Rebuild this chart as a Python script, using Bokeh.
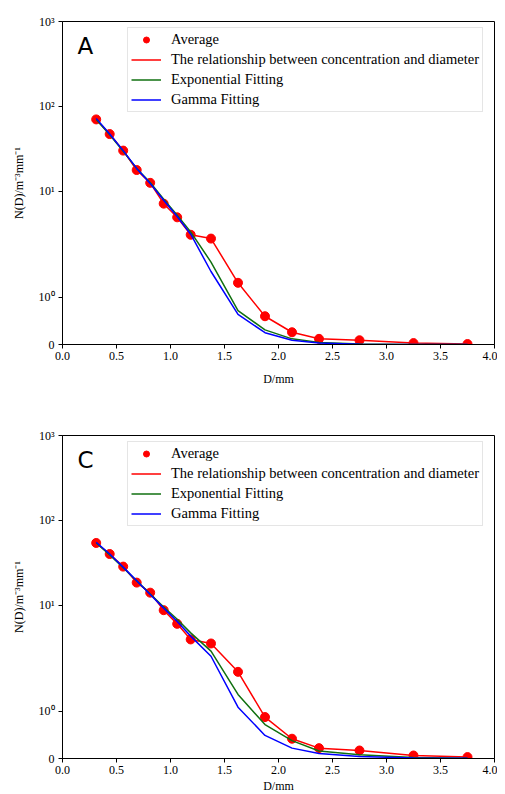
import numpy as np
from bokeh.plotting import figure
from bokeh.layouts import column
from bokeh.models import FixedTicker, NumeralTickFormatter, Label, Legend
from bokeh.embed import file_html
from bokeh.resources import INLINE

# ---------------- data ----------------
diameter = [0.312, 0.437, 0.562, 0.687, 0.812, 0.937, 1.062, 1.187,
            1.375, 1.625, 1.875, 2.125, 2.375, 2.75, 3.25, 3.75]

a_average = [70, 47, 30, 17.7, 12.5, 7.1, 4.9, 3.05,
             2.75, 1.31, 0.60, 0.26, 0.12, 0.09, 0.03, 0.01]
a_exponential = [70, 46, 29.5, 18.5, 12.6, 8.0, 5.2, 3.3,
                 1.75, 0.72, 0.31, 0.12, 0.045, 0.012, 0.002, 0.0004]
a_gamma = [72, 47, 30, 18.5, 12.3, 7.8, 5.0, 3.1,
           1.55, 0.64, 0.25, 0.09, 0.03, 0.006, 0.001, 0.0002]

c_average = [54, 40, 28.4, 18.4, 14.0, 8.7, 6.0, 3.93,
             3.52, 1.84, 0.88, 0.42, 0.22, 0.17, 0.064, 0.03]
c_exponential = [54, 39, 27.5, 19.3, 13.5, 9.5, 6.8, 4.7,
                 2.86, 1.36, 0.72, 0.38, 0.16, 0.08, 0.02, 0.005]
c_gamma = [55, 40, 28, 19.3, 13.3, 9.2, 6.4, 4.3,
           2.49, 1.09, 0.49, 0.22, 0.107, 0.04, 0.01, 0.003]

x_ticks = [0.0, 0.5, 1.0, 1.5, 2.0, 2.5, 3.0, 3.5, 4.0]
y_tick_values = [0, 1, 10, 100, 1000]
y_tick_labels = ["0", "10\u2070", "10\u00b9", "10\u00b2", "10\u00b3"]

legend_labels = ["Average",
                 "The relationship between concentration and diameter",
                 "Exponential Fitting",
                 "Gamma Fitting"]

# symmetric-log transform (linthresh=2, linscale=1, base 10)
LINTHRESH = 2.0
ADJ = 1.0 / (1.0 - 1.0 / 10.0)


def symlog(v):
    v = np.asarray(v, dtype=float)
    with np.errstate(divide="ignore"):
        out = np.where(v <= LINTHRESH, v / LINTHRESH * ADJ,
                       ADJ + np.log10(np.maximum(v, 1e-12) / LINTHRESH))
    return out


SERIF = "Liberation Serif"


def make_panel(letter, avg, expo, gam, top_border, bottom_border, xlabel_standoff):
    ytop = float(symlog([1000])[0])
    p = figure(output_backend="svg", toolbar_location=None,
               frame_width=432, frame_height=323,
               min_border_left=62, min_border_right=3,
               min_border_top=top_border, min_border_bottom=bottom_border,
               x_range=(0, 4), y_range=(0, ytop),
               background_fill_color="white", border_fill_color="white")
    p.grid.visible = False
    p.outline_line_color = "black"
    p.outline_line_width = 1

    ty = symlog(y_tick_values)
    p.yaxis.ticker = FixedTicker(ticks=list(ty))
    p.yaxis.major_label_overrides = {float(t): lab for t, lab in zip(ty, y_tick_labels)}
    p.xaxis.ticker = FixedTicker(ticks=x_ticks)
    p.xaxis.formatter = NumeralTickFormatter(format="0.0")

    for axes in (p.xaxis, p.yaxis):
        axes.axis_line_color = "black"
        axes.major_tick_line_color = "black"
        axes.major_tick_in = 0
        axes.major_tick_out = 4
        axes.minor_tick_line_color = None
        axes.major_label_text_font = SERIF
        axes.major_label_text_font_size = "12px"
        axes.major_label_text_color = "black"
        axes.axis_label_text_font = SERIF
        axes.axis_label_text_font_size = "12px"
        axes.axis_label_text_font_style = "normal"
        axes.axis_label_text_color = "black"
    p.xaxis.axis_label = "D/mm"
    p.xaxis.major_label_standoff = 3
    p.xaxis.axis_label_standoff = xlabel_standoff
    p.yaxis.axis_label = "N(D)/m\u207b\u00b3mm\u207b\u00b9"
    p.yaxis.major_label_standoff = 4
    p.yaxis.axis_label_standoff = 10

    ys_avg = symlog(avg)
    r0 = p.scatter(diameter, ys_avg, size=9, color="#ff0000", marker="circle")
    r1 = p.line(diameter, ys_avg, line_color="#ff0000", line_width=1.5)
    r2 = p.line(diameter, symlog(expo), line_color="#107010", line_width=1.5)
    r3 = p.line(diameter, symlog(gam), line_color="#0000ff", line_width=1.5)

    legend = Legend(items=[(legend_labels[0], [r0]), (legend_labels[1], [r1]),
                           (legend_labels[2], [r2]), (legend_labels[3], [r3])],
                    location=(65, 232))
    legend.label_text_font = SERIF
    legend.label_text_font_size = "14.5px"
    legend.label_text_color = "black"
    legend.glyph_width = 30
    legend.glyph_height = 15
    legend.label_height = 15
    legend.label_standoff = 10
    legend.spacing = 3
    legend.padding = 3
    legend.margin = 0
    legend.border_line_color = "#cccccc"
    legend.border_line_width = 1
    legend.background_fill_color = "white"
    legend.background_fill_alpha = 0.8
    p.add_layout(legend)

    lab = Label(x=0.14, y=3.52, text=letter, text_font="DejaVu Sans",
                text_font_size="23px", text_color="black",
                text_baseline="alphabetic")
    p.add_layout(lab)
    return p


p1 = make_panel("A", a_average, a_exponential, a_gamma, 21, 78, 9)
p2 = make_panel("C", c_average, c_exponential, c_gamma, 13, 20, 2)

layout = column(p1, p2, spacing=0)
open("out.html", "w").write(file_html(layout, INLINE))
